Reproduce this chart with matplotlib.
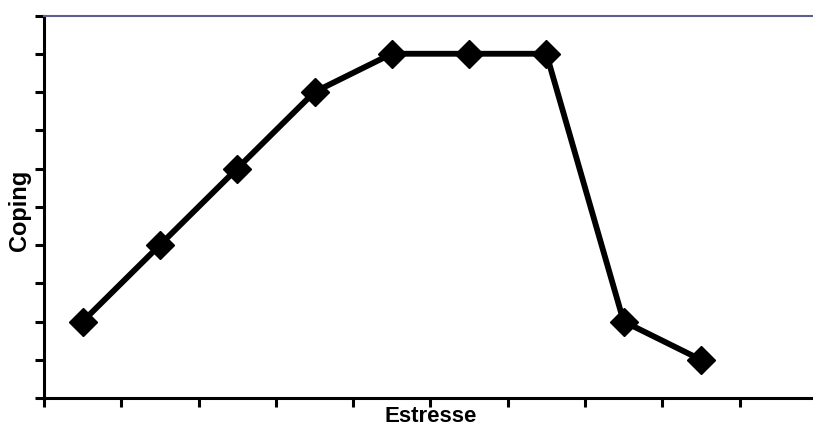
import matplotlib.pyplot as plt

# values
estresse = [0.5, 1.5, 2.5, 3.5, 4.5, 5.5, 6.5, 7.5, 8.5]
coping = [2, 4, 6, 8, 9, 9, 9, 2, 1]

plt.rcParams['font.family'] = ['Liberation Sans', 'DejaVu Sans']

fig = plt.figure(figsize=(8.13, 4.28), dpi=100)
ax = fig.add_axes([44 / 813, 30 / 428, 1 - 44 / 813, (398 - 15.5) / 428])

ax.plot(estresse, coping, color='black', linewidth=4.2, marker='D',
        markersize=14, markerfacecolor='black', markeredgecolor='black')

ax.set_xlim(0, 9.95)
ax.set_ylim(0, 10)
ax.set_xticks(range(0, 10))
ax.set_yticks(range(0, 11))
ax.set_xticklabels([])
ax.set_yticklabels([])
ax.tick_params(direction='out', length=6.5, width=2.2, color='black')

for s in ['left', 'bottom']:
    ax.spines[s].set_linewidth(2.2)
ax.spines['right'].set_visible(False)
ax.spines['top'].set_color('#5f5f8f')
ax.spines['top'].set_linewidth(1.5)

ax.set_xlabel('Estresse', fontsize=16, fontweight='bold')
ax.set_ylabel('Coping', fontsize=17, fontweight='bold')
ax.xaxis.set_label_coords(5 / 9.95, -0.022)
ax.yaxis.set_label_coords(-0.0165, 0.49)

fig.savefig('out.png', dpi=100)
